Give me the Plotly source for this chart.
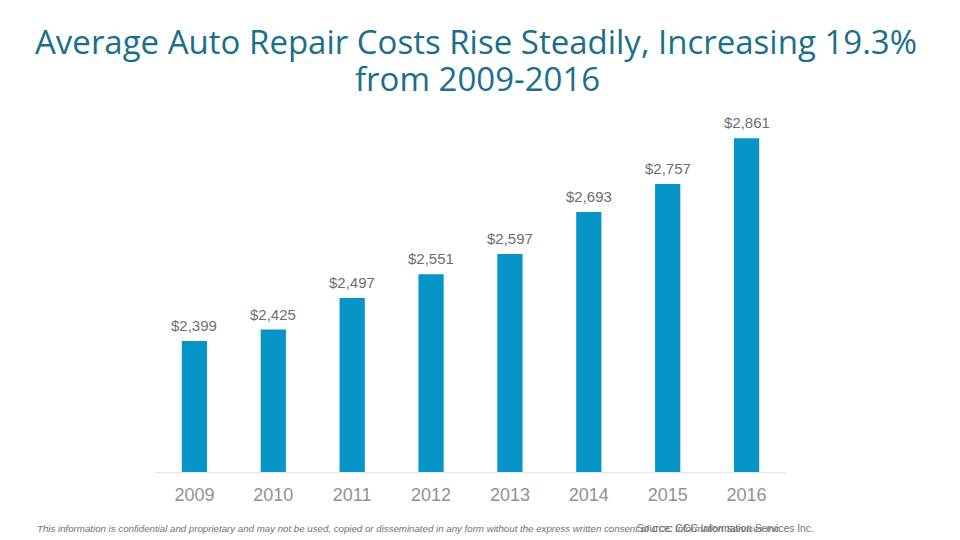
import plotly.graph_objects as go

years = ["2009", "2010", "2011", "2012", "2013", "2014", "2015", "2016"]
costs = [2399, 2425, 2497, 2551, 2597, 2693, 2757, 2861]
labels = ["$2,399", "$2,425", "$2,497", "$2,551", "$2,597", "$2,693", "$2,757", "$2,861"]

title_line1 = "Average Auto Repair Costs Rise Steadily, Increasing 19.3%"
title_line2 = "from 2009-2016"
footer_text = ("This information is confidential and proprietary and may not be used, copied or disseminated "
               "in any form without the express written consent of CCC Information Services Inc.")
source_text = "Source: CCC Information Services Inc."

W, H = 960, 540
plot_l, plot_r = 154.5, 786.5
plot_t, plot_b = 110, 471.7
ph = plot_b - plot_t
pw = plot_r - plot_l

def px_to_paper_y(y):
    return (plot_b - y) / ph

def px_to_paper_x(x):
    return (x - plot_l) / pw

fig = go.Figure()
fig.add_trace(go.Bar(
    x=years, y=costs,
    marker=dict(color="#0794C7", line=dict(width=0)),
    width=0.32, hoverinfo="x+y",
))

fig.update_layout(
    width=W, height=H,
    margin=dict(l=plot_l, r=W - plot_r, t=plot_t, b=H - plot_b, pad=0),
    paper_bgcolor="white", plot_bgcolor="white",
    showlegend=False,
    xaxis=dict(type="category", range=[-0.5, 7.5], showgrid=False,
               showline=True, linecolor="#e3e5e8", linewidth=1,
               ticks="", tickfont=dict(family="Liberation Sans, Arial", size=18, color="#8f9296"),
               ticklabelstandoff=6),
    yaxis=dict(range=[2100, 2925.6], visible=False, showgrid=False, zeroline=False),
)

for i, (c, lab) in enumerate(zip(costs, labels)):
    fig.add_annotation(x=i, y=c, xref="x", yref="y", text=lab, showarrow=False,
                       xanchor="center", yanchor="bottom", yshift=5,
                       font=dict(family="Liberation Sans, Arial", size=15, color="#6b6e73"))

fig.add_annotation(text=title_line1, xref="paper", yref="paper", x=px_to_paper_x(476),
                   y=px_to_paper_y(42), xanchor="center", yanchor="middle", showarrow=False,
                   font=dict(family="Open Sans", size=33, color="#1a6f8c"))
fig.add_annotation(text=title_line2, xref="paper", yref="paper", x=px_to_paper_x(478),
                   y=px_to_paper_y(79), xanchor="center", yanchor="middle", showarrow=False,
                   font=dict(family="Open Sans", size=33, color="#1a6f8c"))

fig.add_annotation(text="<i>" + footer_text + "</i>", xref="paper", yref="paper",
                   x=px_to_paper_x(34), y=px_to_paper_y(528),
                   xanchor="left", yanchor="middle", showarrow=False,
                   font=dict(family="Liberation Sans, Arial", size=9.7, color="#707070"))
fig.add_annotation(text=source_text, xref="paper", yref="paper",
                   x=px_to_paper_x(635), y=px_to_paper_y(528),
                   xanchor="left", yanchor="middle", showarrow=False,
                   font=dict(family="Liberation Sans, Arial", size=10.3, color="#707070"))
fig.write_html("out.html", config={"displayModeBar": False},
               post_script="document.body.style.margin='0px';")
